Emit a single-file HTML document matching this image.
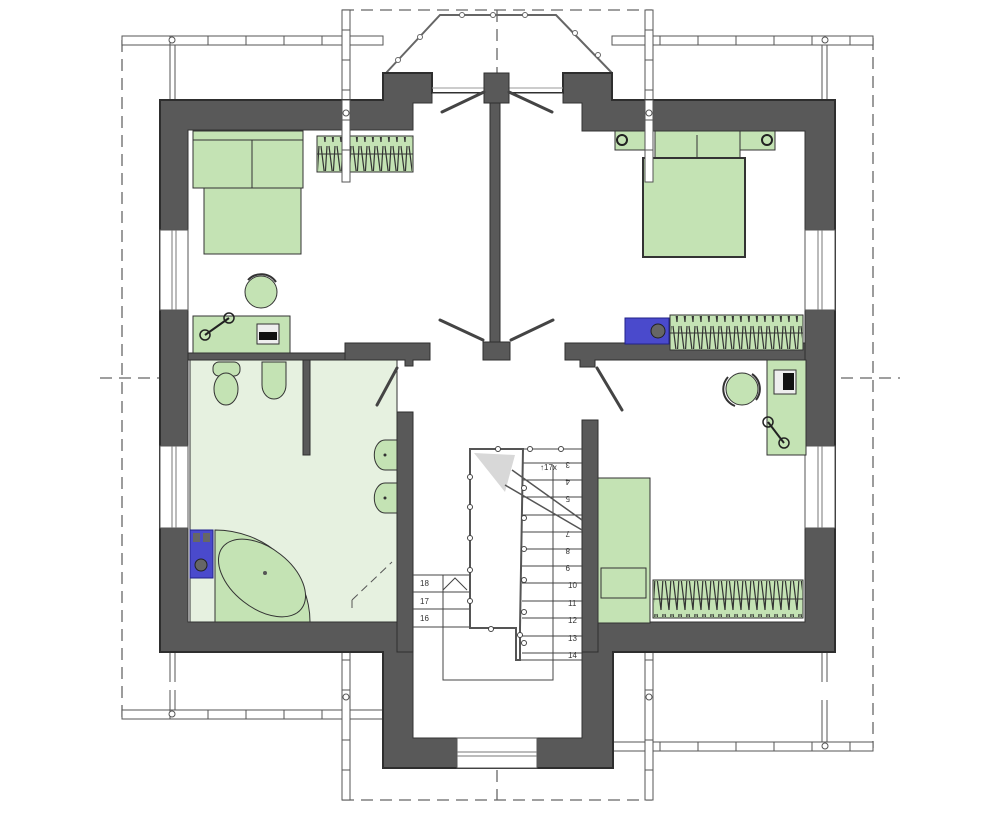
<!DOCTYPE html>
<html><head><meta charset="utf-8"><style>
html,body{margin:0;padding:0;background:#fff;width:1000px;height:822px;overflow:hidden}
svg{display:block}
text{font-family:"Liberation Sans",sans-serif;font-size:8px;fill:#333}
</style></head><body>
<svg width="1000" height="822" viewBox="0 0 1000 822" xmlns="http://www.w3.org/2000/svg">
<defs>
<pattern id="zz" width="8" height="36" patternUnits="userSpaceOnUse">
<path d="M1 2 L5 34 M7 2 L5 34" stroke="#333" stroke-width="1.2" fill="none"/>
</pattern>
</defs>
<g stroke="#666" stroke-width="1.3" stroke-dasharray="12,7" fill="none">
<path d="M122 40 V720"/>
<path d="M873 38 V748"/>
<path d="M342 10 H652"/>
<path d="M342 800 H652"/>
<path d="M100 378 H900"/>
<path d="M497 10 V800"/>
<path d="M350 190 L490 340"/>
<path d="M645 190 L505 340"/>
<path d="M414 528 L490 455"/>
<path d="M522 455 L575 500"/>
<path d="M360 555 L380 535"/>
</g>
<g stroke="#555" stroke-width="1" fill="#fff">
<rect x="122" y="36" width="261" height="9"/>
<rect x="612" y="36" width="261" height="9"/>
<rect x="122" y="710" width="261" height="9"/>
<rect x="612" y="742" width="261" height="9"/>
<rect x="342" y="10" width="8" height="180"/>
<rect x="645" y="10" width="8" height="180"/>
<rect x="342" y="628" width="8" height="172"/>
<rect x="645" y="628" width="8" height="172"/>
<path d="M170 36v9M208 36v9M246 36v9M284 36v9M322 36v9M660 36v9M698 36v9M736 36v9M774 36v9M812 36v9M850 36v9M170 710v9M208 710v9M246 710v9M284 710v9M322 710v9M660 742v9M698 742v9M736 742v9M774 742v9M812 742v9M850 742v9"/>
<path d="M342 30h8M342 60h8M342 90h8M342 120h8M645 30h8M645 60h8M645 90h8M645 120h8M342 660h8M342 690h8M342 740h8M342 770h8M645 660h8M645 690h8M645 740h8M645 770h8"/>
<path d="M170 45v55M175 45v55M827 45v55M822 45v55M170 652v30M175 652v30M827 652v30M822 652v30M170 690v20M175 690v20M822 700v42M827 700v42" fill="none"/>
</g>
<g fill="#fff" stroke="#555" stroke-width="1"><circle cx="172" cy="40" r="3"/><circle cx="825" cy="40" r="3"/><circle cx="172" cy="714" r="3"/><circle cx="825" cy="746" r="3"/><circle cx="346" cy="697" r="3"/><circle cx="649" cy="697" r="3"/></g>
<path d="M386 73 L440 15 L556 15 L612 73" stroke="#666" stroke-width="2" fill="none"/>
<g fill="#fff" stroke="#666"><circle cx="398" cy="60" r="2.5"/><circle cx="420" cy="37" r="2.5"/><circle cx="462" cy="15" r="2.5"/><circle cx="493" cy="15" r="2.5"/><circle cx="525" cy="15" r="2.5"/><circle cx="575" cy="33" r="2.5"/><circle cx="598" cy="55" r="2.5"/></g>
<path d="M160 100 H383 V73 H432 V93 H563 V73 H612 V100 H835 V652 H613 V768 H383 V652 H160 Z" fill="#595959" stroke="#2e2e2e" stroke-width="2"/>
<path d="M188 130 H413 V103 H432 V93 H563 V103 H582 V131 H805 V622 H582 V738 H413 V622 H188 Z" fill="#fff" stroke="#333" stroke-width="1"/>
<line x1="432" y1="88" x2="563" y2="88" stroke="#999" stroke-width="1"/>
<g fill="#fff" stroke="#555" stroke-width="1">
<rect x="160" y="230" width="28" height="80"/>
<rect x="160" y="446" width="28" height="82"/>
<rect x="805" y="230" width="30" height="80"/>
<rect x="805" y="446" width="30" height="82"/>
<rect x="457" y="738" width="80" height="30"/>
</g>
<path d="M172 230v80M176 230v80M172 446v82M176 446v82M818 230v80M822 230v80M818 446v82M822 446v82M457 752h80M457 756h80" stroke="#777" stroke-width="1"/>
<rect x="190" y="360" width="207" height="262" fill="#e6f1e0" stroke="#333"/>
<g fill="#595959" stroke="#2e2e2e" stroke-width="1">
<rect x="188" y="353" width="157" height="7"/>
<path d="M345 343 H430 V360 H413 V366 H405 V360 H345 Z"/>
<path d="M565 343 H805 V360 H595 V367 H580 V360 H565 Z"/>
<rect x="303" y="360" width="7" height="95"/>
<rect x="397" y="412" width="16" height="240"/>
<rect x="582" y="420" width="16" height="232"/>
<rect x="484" y="73" width="25" height="30"/>
<rect x="490" y="103" width="10" height="240"/>
<rect x="483" y="342" width="27" height="18"/>
</g>
<g stroke="#444" stroke-width="3" stroke-linecap="round">
<path d="M484 92 L442 112"/><path d="M509 92 L552 112"/>
<path d="M483 340 L440 320"/><path d="M511 340 L553 320"/>
<path d="M397 368 L377 405"/><path d="M597 368 L622 410"/>
</g>
<g fill="#c4e3b4" stroke="#333" stroke-width="1">
<rect x="193" y="131" width="110" height="57"/>
<rect x="204" y="188" width="97" height="66"/>
<line x1="252" y1="140" x2="252" y2="188"/>
<line x1="193" y1="140" x2="303" y2="140"/>
<rect x="317" y="136" width="96" height="36"/>
<circle cx="261" cy="292" r="16"/>
<rect x="193" y="316" width="97" height="37"/>
</g>
<rect x="318" y="137" width="94" height="34" fill="url(#zz)"/>
<line x1="317" y1="154" x2="413" y2="154" stroke="#333"/>
<path d="M248 280 A18 18 0 0 1 276 282" stroke="#333" stroke-width="2" fill="none"/>
<path d="M205 335 L229 318" stroke="#222" stroke-width="2"/>
<circle cx="205" cy="335" r="5" fill="none" stroke="#222" stroke-width="1.5"/><circle cx="229" cy="318" r="5" fill="none" stroke="#222" stroke-width="1.5"/>
<rect x="257" y="324" width="22" height="20" fill="#eee" stroke="#333"/><rect x="259" y="332" width="18" height="8" fill="#111"/>
<g fill="#c4e3b4" stroke="#333" stroke-width="1">
<rect x="213" y="362" width="27" height="14" rx="6"/>
<ellipse cx="226" cy="389" rx="12" ry="16"/>
<path d="M262 362 H286 V385 A12 14 0 0 1 262 385 Z"/>
<path d="M397 440 H385 A10 14 0 0 0 385 470 H397 Z"/>
<path d="M397 483 H385 A10 14 0 0 0 385 513 H397 Z"/>
<path d="M215 530 A95 92 0 0 1 310 622 H215 Z"/>
<ellipse cx="262" cy="578" rx="50" ry="30" transform="rotate(38 262 578)"/>
</g>
<circle cx="385" cy="455" r="1.5" fill="#333"/><circle cx="385" cy="498" r="1.5" fill="#333"/><circle cx="265" cy="573" r="2" fill="#555"/>
<rect x="190" y="530" width="23" height="48" fill="#4a4acc" stroke="#22228a"/>
<circle cx="201" cy="565" r="6" fill="#666" stroke="#222"/>
<rect x="193" y="533" width="7" height="9" fill="#666"/><rect x="203" y="533" width="7" height="9" fill="#666"/>
<path d="M352 600 L352 610 M352 600 L392 562" stroke="#555" stroke-dasharray="8,5" fill="none"/>
<g fill="#c4e3b4" stroke="#333" stroke-width="1">
<rect x="615" y="131" width="35" height="19"/>
<rect x="740" y="131" width="35" height="19"/>
<rect x="655" y="131" width="85" height="30"/>
<line x1="697" y1="135" x2="697" y2="160"/>
<rect x="643" y="158" width="102" height="99" stroke-width="2"/>
<rect x="670" y="315" width="133" height="35"/>
<circle cx="742" cy="389" r="16"/>
<rect x="767" y="360" width="39" height="95"/>
<rect x="598" y="478" width="52" height="145"/>
<rect x="601" y="568" width="45" height="30"/>
<rect x="653" y="580" width="150" height="38"/>
</g>
<rect x="671" y="316" width="131" height="33" fill="url(#zz)"/>
<line x1="670" y1="333" x2="803" y2="333" stroke="#333"/>
<rect x="654" y="581" width="148" height="36" fill="url(#zz)"/>
<line x1="653" y1="599" x2="803" y2="599" stroke="#333"/>
<rect x="625" y="318" width="44" height="26" fill="#4a4acc" stroke="#22228a"/>
<circle cx="658" cy="331" r="7" fill="#666" stroke="#222"/>
<path d="M728 377 A18 18 0 0 0 735 406 M752 374 A18 18 0 0 1 756 400" stroke="#333" stroke-width="2" fill="none"/>
<path d="M768 422 L784 443" stroke="#222" stroke-width="2"/>
<circle cx="768" cy="422" r="5" fill="none" stroke="#222" stroke-width="1.5"/><circle cx="784" cy="443" r="5" fill="none" stroke="#222" stroke-width="1.5"/>
<rect x="774" y="370" width="22" height="24" fill="#eee" stroke="#333"/><rect x="783" y="373" width="11" height="17" fill="#111"/>
<g fill="none" stroke="#222" stroke-width="2"><circle cx="622" cy="140" r="5"/><circle cx="767" cy="140" r="5"/></g>
<!-- posts crossing walls -->
<g fill="#fff" stroke="#555" stroke-width="1">
<rect x="342" y="100" width="8" height="82"/>
<rect x="645" y="100" width="8" height="82"/>
</g>
<path d="M342 120h8M342 150h8M645 120h8M645 150h8" stroke="#555"/>
<g fill="#fff" stroke="#555"><circle cx="346" cy="113" r="3"/><circle cx="649" cy="113" r="3"/></g>
<g stroke="#444" stroke-width="1" fill="none">
<path d="M522 463H582M522 480H582M522 497H582M522 515H582M522 532H582M522 549H582M522 566H582M522 583H582M522 601H582M522 618H582M522 636H582M522 653H582M520 660H582"/>
<path d="M413 575H470M413 592H470M413 609H470M413 627H470"/>
<path d="M443 575 V680 H553 V465"/>
<path d="M470 449 H582"/>
<path d="M443 590 L455 578 L467 590"/>
</g>
<path d="M470 449 H523 L520 628 H520 V660 H516 V628 H470 Z" fill="#fff" stroke="#555" stroke-width="2"/>
<path d="M474 453 L515 455 L505 492 Z" fill="#d8d8d8"/>
<path d="M505 485 L582 530 M512 470 L582 520" stroke="#555" stroke-width="1.5"/>
<g fill="#fff" stroke="#444"><circle cx="498" cy="449" r="2.5"/><circle cx="530" cy="449" r="2.5"/><circle cx="561" cy="449" r="2.5"/><circle cx="470" cy="477" r="2.5"/><circle cx="470" cy="507" r="2.5"/><circle cx="470" cy="538" r="2.5"/><circle cx="470" cy="570" r="2.5"/><circle cx="470" cy="601" r="2.5"/><circle cx="491" cy="629" r="2.5"/><circle cx="524" cy="488" r="2.5"/><circle cx="524" cy="518" r="2.5"/><circle cx="524" cy="549" r="2.5"/><circle cx="524" cy="580" r="2.5"/><circle cx="524" cy="612" r="2.5"/><circle cx="520" cy="635" r="2.5"/><circle cx="524" cy="643" r="2.5"/></g>
<g>
<text x="574" y="468" transform="rotate(180 572 465)">3</text>
<text x="574" y="485" transform="rotate(180 572 482)">4</text>
<text x="574" y="502" transform="rotate(180 572 499)">5</text>
<text x="574" y="537" transform="rotate(180 572 534)">7</text>
<text x="574" y="554" transform="rotate(180 572 551)">8</text>
<text x="574" y="571" transform="rotate(180 572 568)">9</text>
<text x="568" y="588">10</text>
<text x="568" y="606">11</text>
<text x="568" y="623">12</text>
<text x="568" y="641">13</text>
<text x="568" y="658">14</text>
<text x="420" y="586">18</text>
<text x="420" y="604">17</text>
<text x="420" y="621">16</text>
<text x="540" y="470" font-size="7">↑17x</text>
</g>
</svg>
</body></html>
